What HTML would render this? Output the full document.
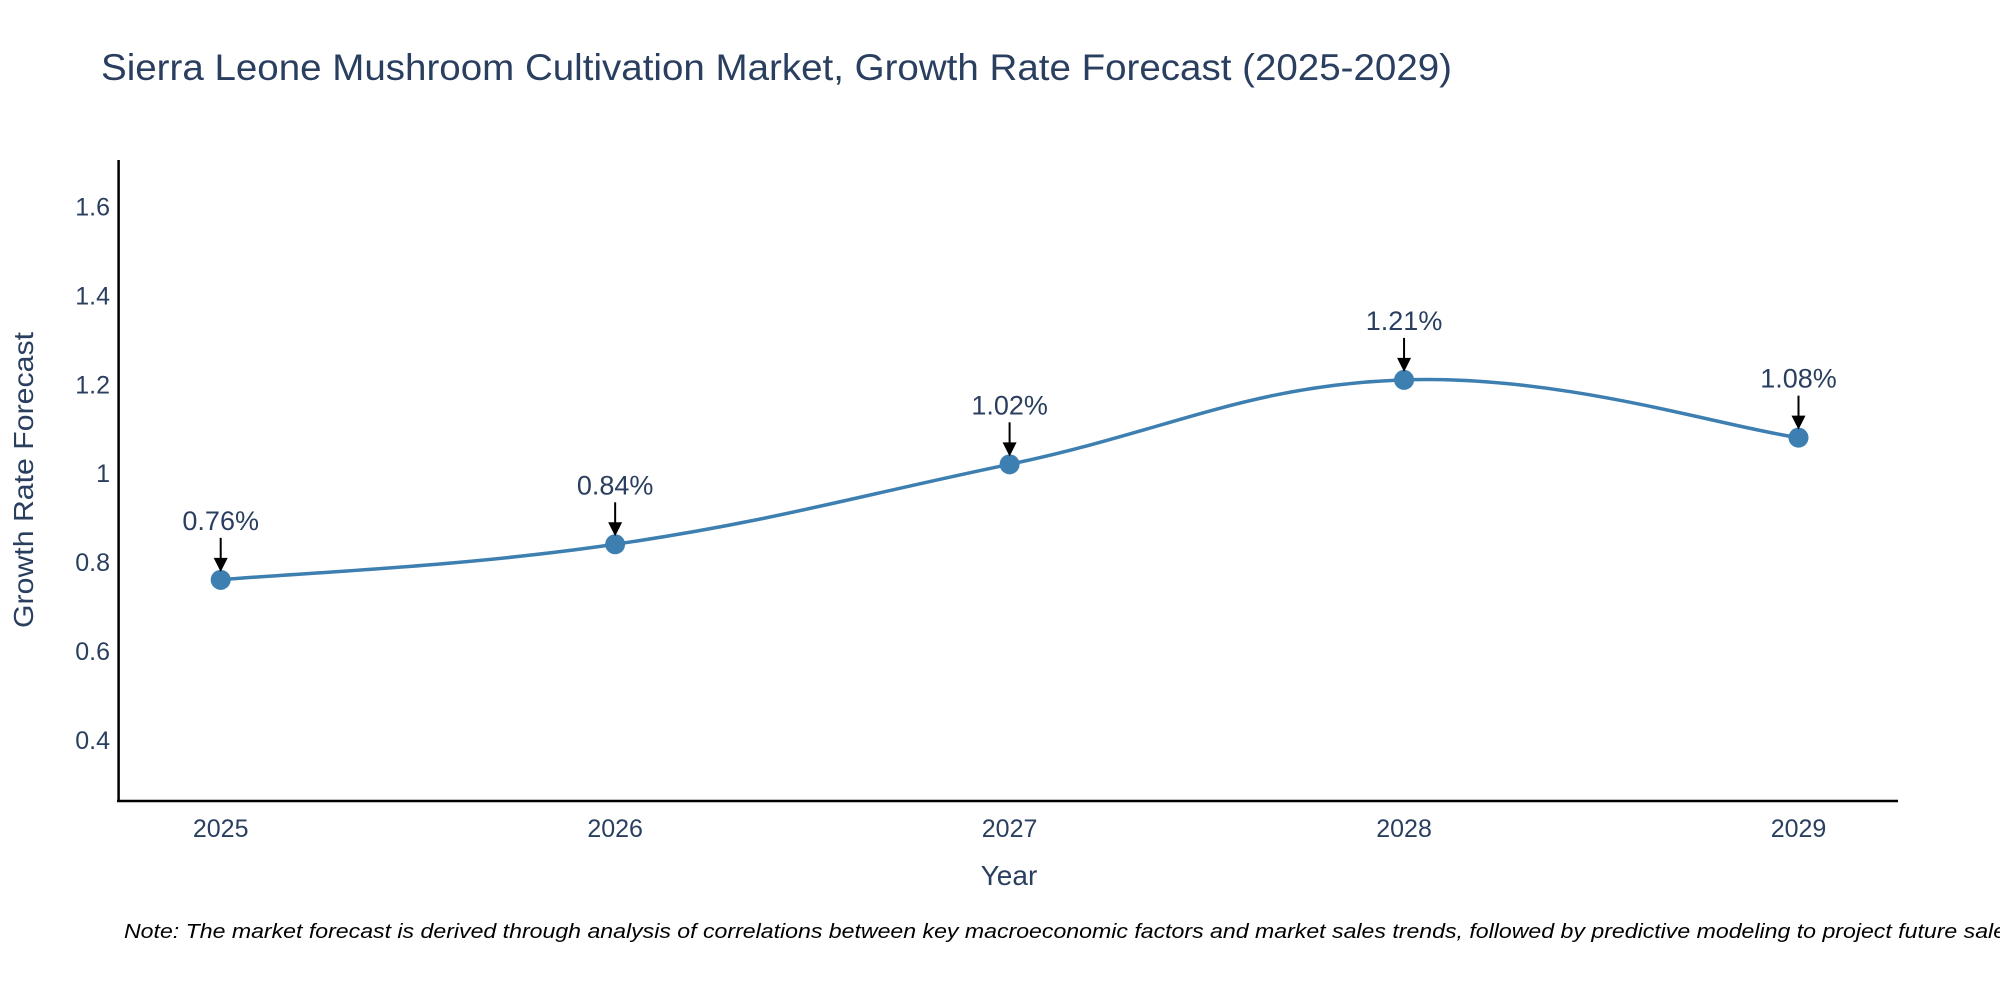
<!DOCTYPE html>
<html><head><meta charset="utf-8"><style>
body{margin:0;background:#fff;}
svg{display:block;font-family:"Liberation Sans",sans-serif;}
</style></head><body>
<svg id="chart" width="2000" height="1000" viewBox="0 0 2000 1000">
<text x="101" y="80" font-size="37" fill="#2a3f5f" textLength="1351" lengthAdjust="spacingAndGlyphs">Sierra Leone Mushroom Cultivation Market, Growth Rate Forecast (2025-2029)</text>
<g id="yticks"></g><g id="xticks"></g>
<line x1="118.6" y1="160" x2="118.6" y2="802" stroke="#000" stroke-width="2.5"/>
<line x1="117" y1="801" x2="1898" y2="801" stroke="#000" stroke-width="2.5"/>
<text transform="translate(33,480) rotate(-90)" text-anchor="middle" font-size="28" fill="#2a3f5f" textLength="296" lengthAdjust="spacingAndGlyphs">Growth Rate Forecast</text>
<text x="1009" y="885" text-anchor="middle" font-size="28" fill="#2a3f5f">Year</text>
<g id="series"></g>
<text x="124" y="938" font-size="20" font-style="italic" fill="#000" textLength="1900" lengthAdjust="spacingAndGlyphs">Note: The market forecast is derived through analysis of correlations between key macroeconomic factors and market sales trends, followed by predictive modeling to project future sales.</text>
</svg>
<script>
const years=["2025","2026","2027","2028","2029"];
const values=[0.76,0.84,1.02,1.21,1.08];
const labels=["0.76%","0.84%","1.02%","1.21%","1.08%"];
const yTickValues=[0.4,0.6,0.8,1,1.2,1.4,1.6];
const yTickLabels=["0.4","0.6","0.8","1","1.2","1.4","1.6"];
const NS="http://www.w3.org/2000/svg";
function xs(i){return 220.7+i*(1798.5-220.7)/(years.length-1);}
function ys(v){return 739.8-(v-0.4)*(739.8-206.6)/1.2;}
function mk(t,a,p){const e=document.createElementNS(NS,t);for(const k in a)e.setAttribute(k,a[k]);p.appendChild(e);return e;}
const yt=document.getElementById('yticks');
yTickValues.forEach((v,i)=>{const t=mk('text',{x:110,y:ys(v)+9,'text-anchor':'end','font-size':25,fill:'#2a3f5f'},yt);


t.textContent=yTickLabels[i];});
const xt=document.getElementById('xticks');
years.forEach((y,i)=>{const t=mk('text',{x:xs(i),y:837,'text-anchor':'middle','font-size':25,fill:'#2a3f5f'},xt);


t.textContent=y;});
const s=document.getElementById('series');
const P=values.map((v,i)=>[xs(i),ys(v)]);
let d=`M${P[0][0]},${P[0][1]}`;const tn=0.6;
for(let i=0;i<P.length-1;i++){const p0=P[Math.max(0,i-1)],p1=P[i],p2=P[i+1],p3=P[Math.min(P.length-1,i+2)];
const c1=[p1[0]+(p2[0]-p0[0])*tn/3,p1[1]+(p2[1]-p0[1])*tn/3],c2=[p2[0]-(p3[0]-p1[0])*tn/3,p2[1]-(p3[1]-p1[1])*tn/3];
d+=` C${c1[0]},${c1[1]} ${c2[0]},${c2[1]} ${p2[0]},${p2[1]}`;}
const line=mk('path',{d:d,fill:'none',stroke:'#3d7fb0','stroke-width':3.5},s);


P.forEach((p,i)=>{const c=mk('circle',{cx:p[0],cy:p[1],r:10,fill:'#3d7fb0'},s);


const a=mk('line',{x1:p[0],y1:p[1]-42,x2:p[0],y2:p[1]-20,stroke:'#000','stroke-width':2},s);


const h=mk('path',{d:`M${p[0]-7},${p[1]-22} L${p[0]+7},${p[1]-22} L${p[0]},${p[1]-8} Z`,fill:'#000'},s);


const t=mk('text',{x:p[0],y:p[1]-50,'text-anchor':'middle','font-size':27,fill:'#2a3f5f'},s);


t.textContent=labels[i];});
</script>
</body></html>
